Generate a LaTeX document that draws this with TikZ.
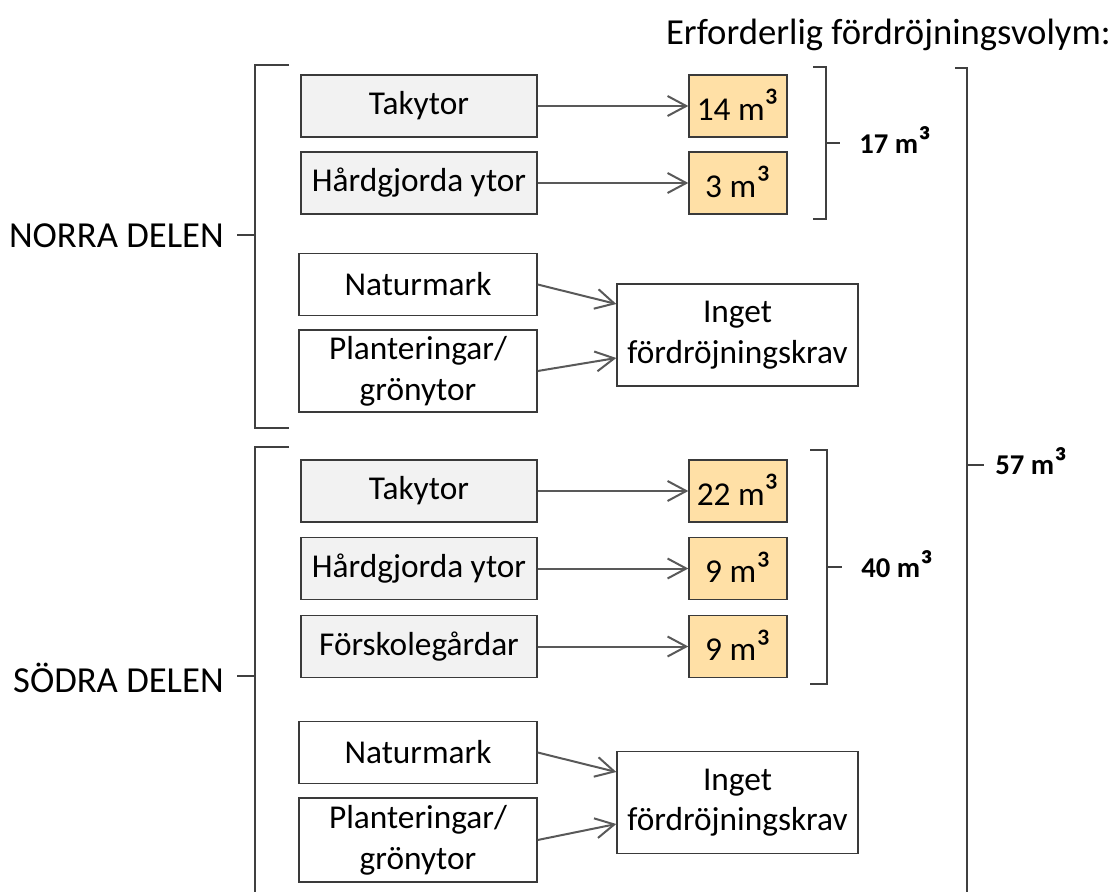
\documentclass[tikz,border=0pt]{standalone}
\usepackage{fontspec}
\usepackage{graphicx}
\setmainfont{Carlito}
\usetikzlibrary{arrows.meta,calc}
\definecolor{boxline}{HTML}{3A3A3A}
\definecolor{grayfill}{HTML}{F2F2F2}
\definecolor{volfill}{HTML}{FFE0A6}
\definecolor{arrowgray}{HTML}{595959}
\definecolor{brkgray}{HTML}{404040}
\newcommand\cubesym{\raisebox{-0.15ex}{\scalebox{1.3}{³}}}
\begin{document}
\begin{tikzpicture}[x=0.75pt,y=-0.75pt,
  box/.style={draw=boxline,line width=1pt,minimum height=46.5pt,inner sep=0pt,align=center,font=\fontsize{25}{30.5}\selectfont},
  graybox/.style={box,fill=grayfill,minimum width=177pt},
  whitebox/.style={box,fill=white,minimum width=178.5pt},
  volbox/.style={box,fill=volfill,minimum width=73.5pt},
  ingetbox/.style={box,fill=white,minimum width=180.75pt,minimum height=76.5pt},
  arr/.style={draw=arrowgray,line width=1.5pt,-{Straight Barb[length=14pt,width=15pt,line width=1.5pt]}},
  brk/.style={draw=brkgray,line width=1.6pt},
  lbl/.style={font=\fontsize{27.5}{32}\selectfont,inner sep=0pt},
  sumlbl/.style={font=\bfseries\fontsize{21.5}{25}\selectfont,inner sep=0pt}]
\useasboundingbox (0,0) rectangle (1115,892);

% title
\node[lbl,anchor=east] (title) at (1111,35) {Erforderlig fördröjningsvolym:};

% NORRA
\node[graybox] (tak1) at (419,106) {Takytor};
\node[graybox] (hard1) at (419,183) {Hårdgjorda ytor};
\node[volbox] (v14) at (738,106) {14 m\cubesym};
\node[volbox] (v3) at (738,183) {3 m\cubesym};
\node[whitebox] (nat1) at (418,284.5) {Naturmark};
\node[whitebox,minimum height=61.5pt] (pl1) at (418,371) {Planteringar/\\grönytor};
\node[ingetbox] (ing1) at (737.5,335) {Inget\\fördröjningskrav};

\draw[arr] (tak1.east) -- (v14.west);
\draw[arr] (hard1.east) -- (v3.west);
\draw[arr] (nat1.east) -- ($(ing1.west)+(0,-31)$);
\draw[arr] (pl1.east) -- ($(ing1.west)+(0,23)$);

% SODRA
\node[graybox] (tak2) at (419,491) {Takytor};
\node[graybox] (hard2) at (419,568.5) {Hårdgjorda ytor};
\node[graybox] (for2) at (419,646.5) {Förskolegårdar};
\node[volbox] (v22) at (738,491) {22 m\cubesym};
\node[volbox] (v9a) at (738,568.5) {9 m\cubesym};
\node[volbox] (v9b) at (738,646.5) {9 m\cubesym};
\node[whitebox] (nat2) at (418,752.5) {Naturmark};
\node[whitebox,minimum height=63pt] (pl2) at (418,840) {Planteringar/\\grönytor};
\node[ingetbox] (ing2) at (737.5,802.5) {Inget\\fördröjningskrav};

\draw[arr] (tak2.east) -- (v22.west);
\draw[arr] (hard2.east) -- (v9a.west);
\draw[arr] (for2.east) -- (v9b.west);
\draw[arr] (nat2.east) -- ($(ing2.west)+(0,-30.5)$);
\draw[arr] (pl2.east) -- ($(ing2.west)+(0,21.5)$);

% brackets left
\coordinate (nt) at (289,65);
\coordinate (nb) at (289,428);
\coordinate (nm) at (237,235);
\draw[brk] (nt) -- (255,65) -- (255,428) -- (nb);
\draw[brk] (255,235) -- (nm);
\node[lbl,anchor=east] (norra) at (224,236) {NORRA DELEN};

\coordinate (st) at (289,447);
\coordinate (sm) at (237,676);
\draw[brk] (st) -- (255,447) -- (255,892);
\draw[brk] (255,676) -- (sm);
\node[lbl,anchor=east] (sodra) at (224,678) {SÖDRA DELEN};

% brackets right
\coordinate (at) at (813,67);
\coordinate (ab) at (813,219);
\coordinate (am) at (840,143);
\draw[brk] (at) -- (826,67) -- (826,219) -- (ab);
\draw[brk] (826,143) -- (am);
\node[sumlbl,anchor=west] (s17) at (859,141) {17 m\cubesym};

\coordinate (bt) at (810,450);
\coordinate (bb) at (810,684);
\coordinate (bm) at (842,567);
\draw[brk] (bt) -- (827,450) -- (827,684) -- (bb);
\draw[brk] (827,567) -- (bm);
\node[sumlbl,anchor=west] (s40) at (861,565) {40 m\cubesym};

\coordinate (ct) at (955,68);
\coordinate (cm) at (984,465);
\draw[brk] (ct) -- (967,68) -- (967,892);
\draw[brk] (967,465) -- (cm);
\node[sumlbl,anchor=west] (s57) at (995,462) {57 m\cubesym};
\end{tikzpicture}
\end{document}
